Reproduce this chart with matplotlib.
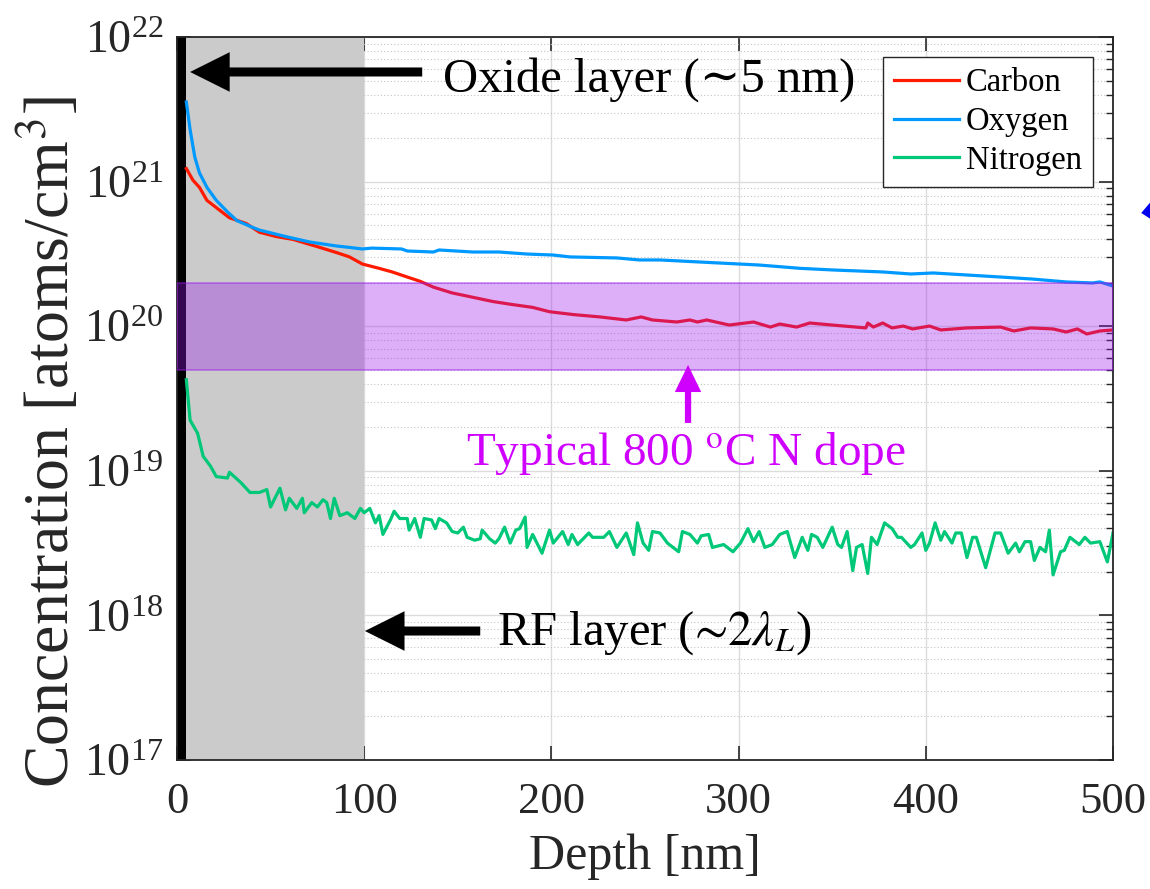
import numpy as np
import matplotlib.pyplot as plt
from matplotlib.patches import FancyArrowPatch
from matplotlib.ticker import LogLocator, NullFormatter

plt.rcParams['font.family'] = ['Liberation Serif', 'DejaVu Serif']
plt.rcParams['mathtext.fontset'] = 'stix'

# SIMS depth profiles: depth [nm], log10 of concentration [atoms/cm^3]
depth_c = [5, 8.5, 12, 16, 21, 28, 37, 44, 53, 62,
           75, 85, 92, 99, 108, 115, 123, 130, 137, 147,
           158, 169, 179, 190, 199, 212, 226, 240, 248, 254,
           267, 274, 278, 283, 295, 308, 317, 322, 331, 338,
           350, 368, 369, 372, 377, 382, 388, 393, 402, 408,
           422, 440, 447, 456, 468, 475, 481, 486, 493, 500]
logc_c = [21.09, 21.01, 20.96, 20.87, 20.82, 20.75, 20.71, 20.65, 20.62, 20.60,
          20.55, 20.51, 20.48, 20.43, 20.40, 20.375, 20.34, 20.31, 20.27, 20.23,
          20.20, 20.17, 20.15, 20.13, 20.10, 20.08, 20.064, 20.043, 20.064, 20.043,
          20.029, 20.043, 20.029, 20.043, 20.008, 20.029, 19.994, 20.015, 19.994, 20.022,
          20.008, 19.988, 20.022, 19.994, 20.022, 19.988, 20.001, 19.981, 20.001, 19.974,
          19.988, 19.994, 19.967, 19.988, 19.981, 19.960, 19.981, 19.946, 19.967, 19.974]

depth_o = [5, 7, 9.5, 12, 16, 21, 27, 32, 41, 44,
           59, 71, 85, 92, 99, 104, 120, 123, 137, 140,
           158, 172, 187, 201, 210, 235, 247, 258, 279, 311,
           333, 350, 377, 392, 404, 422, 440, 457, 475, 489,
           493, 500]
logc_o = [21.55, 21.36, 21.17, 21.06, 20.96, 20.87, 20.79, 20.73, 20.68, 20.665,
          20.617, 20.582, 20.555, 20.545, 20.534, 20.54, 20.534, 20.52, 20.513, 20.527,
          20.513, 20.513, 20.499, 20.492, 20.479, 20.472, 20.458, 20.458, 20.444, 20.423,
          20.40, 20.389, 20.375, 20.361, 20.368, 20.354, 20.340, 20.326, 20.306, 20.299,
          20.306, 20.278]

depth_n = [5, 7, 11, 14, 18, 21, 27, 28, 34, 39,
           44, 48, 50, 55, 58, 60, 64, 67, 68, 72,
           75, 78, 80, 82, 84, 87, 91, 95, 98, 100,
           103, 106, 108, 110, 114, 116, 119, 123, 124, 127,
           130, 132, 136, 138, 140, 144, 147, 150, 153, 155,
           159, 162, 163, 167, 170, 172, 175, 178, 181, 183,
           186, 187, 190, 195, 199, 201, 206, 209, 211, 214,
           220, 222, 228, 231, 235, 240, 244, 246, 249, 252,
           254, 258, 262, 268, 270, 274, 278, 280, 284, 286,
           292, 297, 301, 305, 308, 311, 314, 318, 322, 326,
           330, 334, 337, 339, 342, 345, 350, 353, 355, 358,
           361, 363, 366, 369, 371, 374, 378, 382, 385, 387,
           392, 394, 398, 400, 402, 405, 408, 410, 414, 416,
           419, 422, 425, 427, 432, 437, 440, 444, 448, 450,
           453, 456, 458, 461, 464, 466, 468, 472, 474, 477,
           482, 485, 488, 493, 497, 500]
logc_n = [19.63, 19.35, 19.26, 19.10, 19.03, 18.96, 18.95, 18.99, 18.92, 18.85,
          18.85, 18.87, 18.75, 18.88, 18.73, 18.81, 18.74, 18.81, 18.71, 18.78,
          18.75, 18.80, 18.78, 18.67, 18.81, 18.69, 18.71, 18.67, 18.74, 18.71,
          18.74, 18.64, 18.69, 18.56, 18.66, 18.72, 18.67, 18.67, 18.59, 18.67,
          18.54, 18.67, 18.66, 18.60, 18.67, 18.64, 18.58, 18.57, 18.61, 18.54,
          18.52, 18.53, 18.59, 18.53, 18.50, 18.53, 18.61, 18.50, 18.59, 18.60,
          18.68, 18.47, 18.56, 18.43, 18.59, 18.50, 18.58, 18.49, 18.56, 18.49,
          18.57, 18.54, 18.54, 18.58, 18.47, 18.57, 18.42, 18.64, 18.50, 18.45,
          18.58, 18.57, 18.50, 18.44, 18.58, 18.56, 18.50, 18.55, 18.56, 18.47,
          18.49, 18.44, 18.50, 18.60, 18.51, 18.58, 18.47, 18.49, 18.56, 18.58,
          18.40, 18.54, 18.45, 18.56, 18.54, 18.47, 18.61, 18.49, 18.47, 18.58,
          18.31, 18.47, 18.49, 18.29, 18.54, 18.49, 18.64, 18.60, 18.54, 18.54,
          18.47, 18.49, 18.57, 18.45, 18.50, 18.64, 18.52, 18.58, 18.50, 18.57,
          18.57, 18.40, 18.54, 18.54, 18.33, 18.57, 18.57, 18.43, 18.50, 18.44,
          18.51, 18.51, 18.38, 18.47, 18.44, 18.59, 18.28, 18.44, 18.45, 18.54,
          18.49, 18.54, 18.50, 18.51, 18.37, 18.57]

oxide_nm = 5          # oxide layer thickness
rf_nm = 100           # RF layer depth
dope_band = (5e19, 2e20)

fig = plt.figure(figsize=(11.5, 8.89), dpi=100)
ax = fig.add_axes([0.1539, 0.1451, 0.8139, 0.8133])

ax.axvspan(0, oxide_nm, color='black', lw=0, zorder=1)
ax.axvspan(oxide_nm, rf_nm, color='#cbcbcb', lw=0, zorder=1)

ax.plot(depth_c, 10 ** np.array(logc_c), color='#ff1a00', lw=2.3, label='Carbon', zorder=2)
ax.plot(depth_o, 10 ** np.array(logc_o), color='#0099ff', lw=2.3, label='Oxygen', zorder=2)
ax.plot(depth_n, 10 ** np.array(logc_n), color='#00c878', lw=2.3, label='Nitrogen', zorder=2)

ax.axhspan(dope_band[0], dope_band[1], facecolor=(0.6, 0.09, 0.92, 0.34),
           edgecolor=(0.6, 0.09, 0.92, 0.5), lw=1.2, zorder=3)

ax.set_yscale('log')
ax.set_xlim(0, 500)
ax.set_ylim(1e17, 1e22)
ax.set_xticks([0, 100, 200, 300, 400, 500])
ax.yaxis.set_major_locator(LogLocator(base=10, numticks=10))
ax.yaxis.set_minor_locator(LogLocator(base=10, subs=np.arange(2, 10), numticks=20))
ax.yaxis.set_minor_formatter(NullFormatter())

ax.tick_params(which='both', direction='in', top=True, right=True,
               color='#262626', labelcolor='#262626')
ax.tick_params(which='major', length=10, width=1.2)
ax.tick_params(which='minor', length=5, width=1)
ax.tick_params(axis='x', labelsize=32, pad=16)
ax.tick_params(axis='y', labelsize=33, pad=10)
ax.set_axisbelow(True)
ax.grid(True, which='major', color='#dcdcdc', lw=1.0)
ax.grid(True, which='minor', axis='y', color='#c4c4c4', ls=(0, (1, 2)), lw=0.8)
for sp in ax.spines.values():
    sp.set_color('#262626')
    sp.set_linewidth(1.3)

ax.set_xlabel('Depth [nm]', fontsize=36, color='#262626', labelpad=8)
ax.set_ylabel('Concentration [atoms/cm$^3$]', fontsize=46, color='#262626')
ax.yaxis.set_label_coords(-0.100, 0.44)

ax.legend(loc='upper right', fontsize=23.5, frameon=True, fancybox=False,
          edgecolor='#262626', framealpha=1, handlelength=2.0, handletextpad=0.2,
          labelspacing=0.25, borderpad=0.35, borderaxespad=0.6)

# annotations
big = dict(arrowstyle='simple,head_length=2.85,head_width=2.85,tail_width=0.65',
           color='black', mutation_scale=10, shrinkA=0, shrinkB=0, lw=0)
ax.annotate('', xy=(7, 10 ** 21.758), xytext=(131, 10 ** 21.758), arrowprops=big)
ax.text(142, 10 ** 21.62, 'Oxide layer (\u223c5 nm)', fontsize=35, va='baseline', ha='left')

ax.annotate('', xy=(100.4, 10 ** 17.892), xytext=(162, 10 ** 17.892), arrowprops=big)
ax.text(171, 10 ** 17.795, 'RF layer ($\u223c2\\lambda_L$)', fontsize=35, va='baseline', ha='left')

mag = '#d000ff'
ax.annotate('', xy=(273, 10 ** 19.732), xytext=(273, 10 ** 19.331),
            arrowprops=dict(arrowstyle='simple,head_length=1.95,head_width=1.9,tail_width=0.45',
                            color=mag, mutation_scale=10, shrinkA=0, shrinkB=0, lw=0))
ax.text(272, 10 ** 19.04, 'Typical 800 $^{\\rm o}$C N dope', fontsize=34, color=mag,
        va='baseline', ha='center')

# partially visible blue arrow at the right edge
fig.add_artist(FancyArrowPatch(
    (1.20, 0.80), (0.9900, 0.760), transform=fig.transFigure,
    arrowstyle='simple,head_length=2.4,head_width=4.2,tail_width=0.6',
    mutation_scale=10, color='#0000ee', lw=0))

fig.savefig('out.png', dpi=100)
